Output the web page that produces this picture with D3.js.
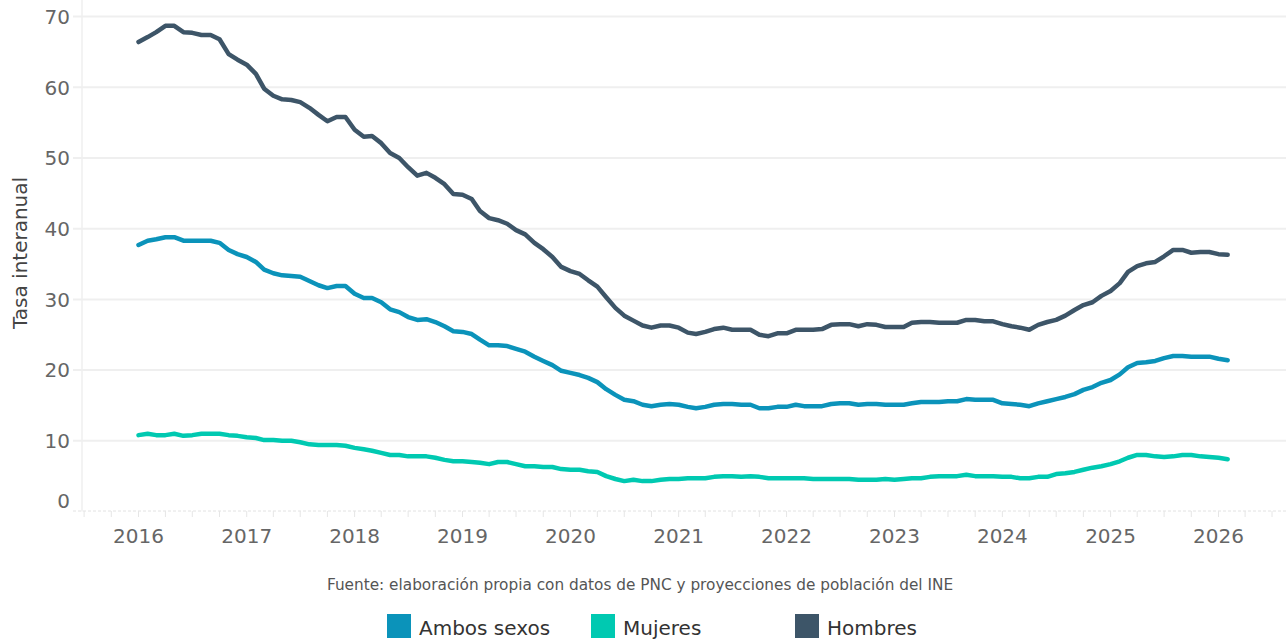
<!DOCTYPE html>
<html><head><meta charset="utf-8">
<script src="https://cdn.jsdelivr.net/npm/d3@7"></script>
<style>
html,body{margin:0;padding:0;background:#fff;}
svg{display:block;font-family:"DejaVu Sans",sans-serif;}
</style></head>
<body>
<svg id="chart" width="1286" height="641"></svg>
<script>
const startYear = 2016, startMonth = 0;
const seriesNames = ["Ambos sexos", "Mujeres", "Hombres"];
const seriesColors = ["#0b93ba", "#00c9b1", "#3d5568"];
const yTicks = [0, 10, 20, 30, 40, 50, 60, 70];
const xTickYears = [2016, 2017, 2018, 2019, 2020, 2021, 2022, 2023, 2024, 2025, 2026];
const ambos = [
37.7,38.3,38.5,38.8,38.8,38.3,38.3,38.3,38.3,38.0,37.0,36.4,
36.0,35.3,34.2,33.7,33.4,33.3,33.2,32.6,32.0,31.6,31.9,31.9,
30.8,30.2,30.2,29.6,28.6,28.2,27.5,27.1,27.2,26.8,26.2,25.5,
25.4,25.1,24.3,23.5,23.5,23.4,23.0,22.6,21.9,21.3,20.7,19.9,
19.6,19.3,18.9,18.3,17.3,16.5,15.8,15.6,15.1,14.9,15.1,15.2,
15.1,14.8,14.6,14.8,15.1,15.2,15.2,15.1,15.1,14.6,14.6,14.8,
14.8,15.1,14.9,14.9,14.9,15.2,15.3,15.3,15.1,15.2,15.2,15.1,
15.1,15.1,15.3,15.5,15.5,15.5,15.6,15.6,15.9,15.8,15.8,15.8,
15.3,15.2,15.1,14.9,15.3,15.6,15.9,16.2,16.6,17.2,17.6,18.2,
18.6,19.4,20.4,21.0,21.1,21.3,21.7,22.0,22.0,21.9,21.9,21.9,
21.6,21.4];
const mujeres = [
10.8,11.0,10.8,10.8,11.0,10.7,10.8,11.0,11.0,11.0,10.8,10.7,
10.5,10.4,10.1,10.1,10.0,10.0,9.8,9.5,9.4,9.4,9.4,9.3,
9.0,8.8,8.6,8.3,8.0,8.0,7.8,7.8,7.8,7.6,7.3,7.1,
7.1,7.0,6.9,6.7,7.0,7.0,6.7,6.4,6.4,6.3,6.3,6.0,
5.9,5.9,5.7,5.6,5.0,4.6,4.3,4.5,4.3,4.3,4.5,4.6,
4.6,4.7,4.7,4.7,4.9,5.0,5.0,4.9,5.0,4.9,4.7,4.7,
4.7,4.7,4.7,4.6,4.6,4.6,4.6,4.6,4.5,4.5,4.5,4.6,
4.5,4.6,4.7,4.7,4.9,5.0,5.0,5.0,5.2,5.0,5.0,5.0,
4.9,4.9,4.7,4.7,4.9,4.9,5.3,5.4,5.6,5.9,6.2,6.4,
6.7,7.1,7.6,8.0,8.0,7.8,7.7,7.8,8.0,8.0,7.8,7.7,
7.6,7.4];
const hombres = [
66.4,67.1,67.8,68.7,68.7,67.8,67.7,67.4,67.4,66.8,64.7,63.9,
63.2,61.9,59.8,58.8,58.3,58.2,57.9,57.1,56.1,55.2,55.8,55.8,
54.0,53.0,53.1,52.1,50.7,50.0,48.7,47.5,47.9,47.2,46.3,44.9,
44.8,44.2,42.5,41.5,41.2,40.7,39.8,39.2,38.0,37.1,36.0,34.6,
34.0,33.6,32.7,31.8,30.3,28.8,27.7,27.0,26.3,26.0,26.3,26.3,
26.0,25.3,25.1,25.4,25.8,26.0,25.7,25.7,25.7,25.0,24.8,25.2,
25.2,25.7,25.7,25.7,25.8,26.4,26.5,26.5,26.2,26.5,26.4,26.1,
26.1,26.1,26.7,26.8,26.8,26.7,26.7,26.7,27.1,27.1,26.9,26.9,
26.5,26.2,26.0,25.7,26.4,26.8,27.1,27.7,28.5,29.2,29.6,30.5,
31.2,32.3,33.9,34.7,35.1,35.3,36.1,37.0,37.0,36.6,36.7,36.7,
36.4,36.3];
const sourceText = "Fuente: elaboración propia con datos de PNC y proyecciones de población del INE";
const yTitle = "Tasa interanual";

const svg = d3.select("#chart");
const W = 1286;
const x = d3.scaleTime().domain([new Date(2016,0,1), new Date(2026,0,1)]).range([138.5, 1218.5]);
const y = d3.scaleLinear().domain([0, 70]).range([511.5, 16.6]);
const plotLeft = 82, axisLeft = 73;

// gridlines
svg.append("g").selectAll("line").data(yTicks.filter(d => d > 0)).join("line")
  .attr("x1", axisLeft).attr("x2", W).attr("y1", d => y(d)).attr("y2", d => y(d))
  .attr("stroke", "#efefef").attr("stroke-width", 2);
// left vertical line
svg.append("line").attr("x1", plotLeft).attr("x2", plotLeft).attr("y1", 0).attr("y2", y(0))
  .attr("stroke", "#efefef").attr("stroke-width", 1.5);

// y tick labels
svg.append("g").selectAll("text").data(yTicks).join("text")
  .attr("x", 70).attr("y", d => d === 0 ? y(d) - 11 : y(d))
  .attr("dy", "0.36em").attr("text-anchor", "end")
  .attr("font-size", 20).attr("fill", "#666").text(d => d);

// x axis
const quarters = d3.timeMonth.every(3).range(new Date(2015,6,1), new Date(2026,9,2));
const xa = svg.append("g");
xa.append("line").attr("x1", axisLeft).attr("x2", W).attr("y1", 511).attr("y2", 511)
  .attr("stroke", "#e2e2e2").attr("stroke-width", 1).attr("stroke-dasharray", "3,2");
xa.selectAll("line.t").data(quarters).join("line").attr("class", "t")
  .attr("x1", d => x(d)).attr("x2", d => x(d)).attr("y1", 511).attr("y2", 517)
  .attr("stroke", "#e6e6e6").attr("stroke-width", 1);
xa.selectAll("text").data(xTickYears).join("text")
  .attr("x", d => x(new Date(d,0,1))).attr("y", 543)
  .attr("text-anchor", "middle").attr("font-size", 20).attr("fill", "#666").text(d => d);

// y title
svg.append("text").attr("transform", "translate(27,253) rotate(-90)")
  .attr("text-anchor", "middle").attr("font-size", 20).attr("fill", "#444").text(yTitle);

// lines
const dates = ambos.map((_, i) => new Date(startYear, startMonth + i, 1));
const allSeries = [ambos, mujeres, hombres];
const line = d3.line().x((d, i) => x(dates[i])).y(d => y(d));
svg.append("g").selectAll("path").data(allSeries).join("path")
  .attr("d", d => line(d)).attr("fill", "none")
  .attr("stroke", (d, i) => seriesColors[i]).attr("stroke-width", 4.5)
  .attr("stroke-linejoin", "round").attr("stroke-linecap", "round");

// source
svg.append("text").attr("x", 640).attr("y", 590).attr("text-anchor", "middle")
  .attr("font-size", 15.3).attr("fill", "#555").text(sourceText);

// legend
const lg = svg.append("g").selectAll("g").data(seriesNames).join("g")
  .attr("transform", (d, i) => `translate(${387 + i * 204},614)`);
lg.append("rect").attr("width", 24).attr("height", 24).attr("fill", (d, i) => seriesColors[i]);
lg.append("text").attr("x", 32).attr("y", 21).attr("font-size", 20).attr("fill", "#333").text(d => d);
</script>
</body></html>
